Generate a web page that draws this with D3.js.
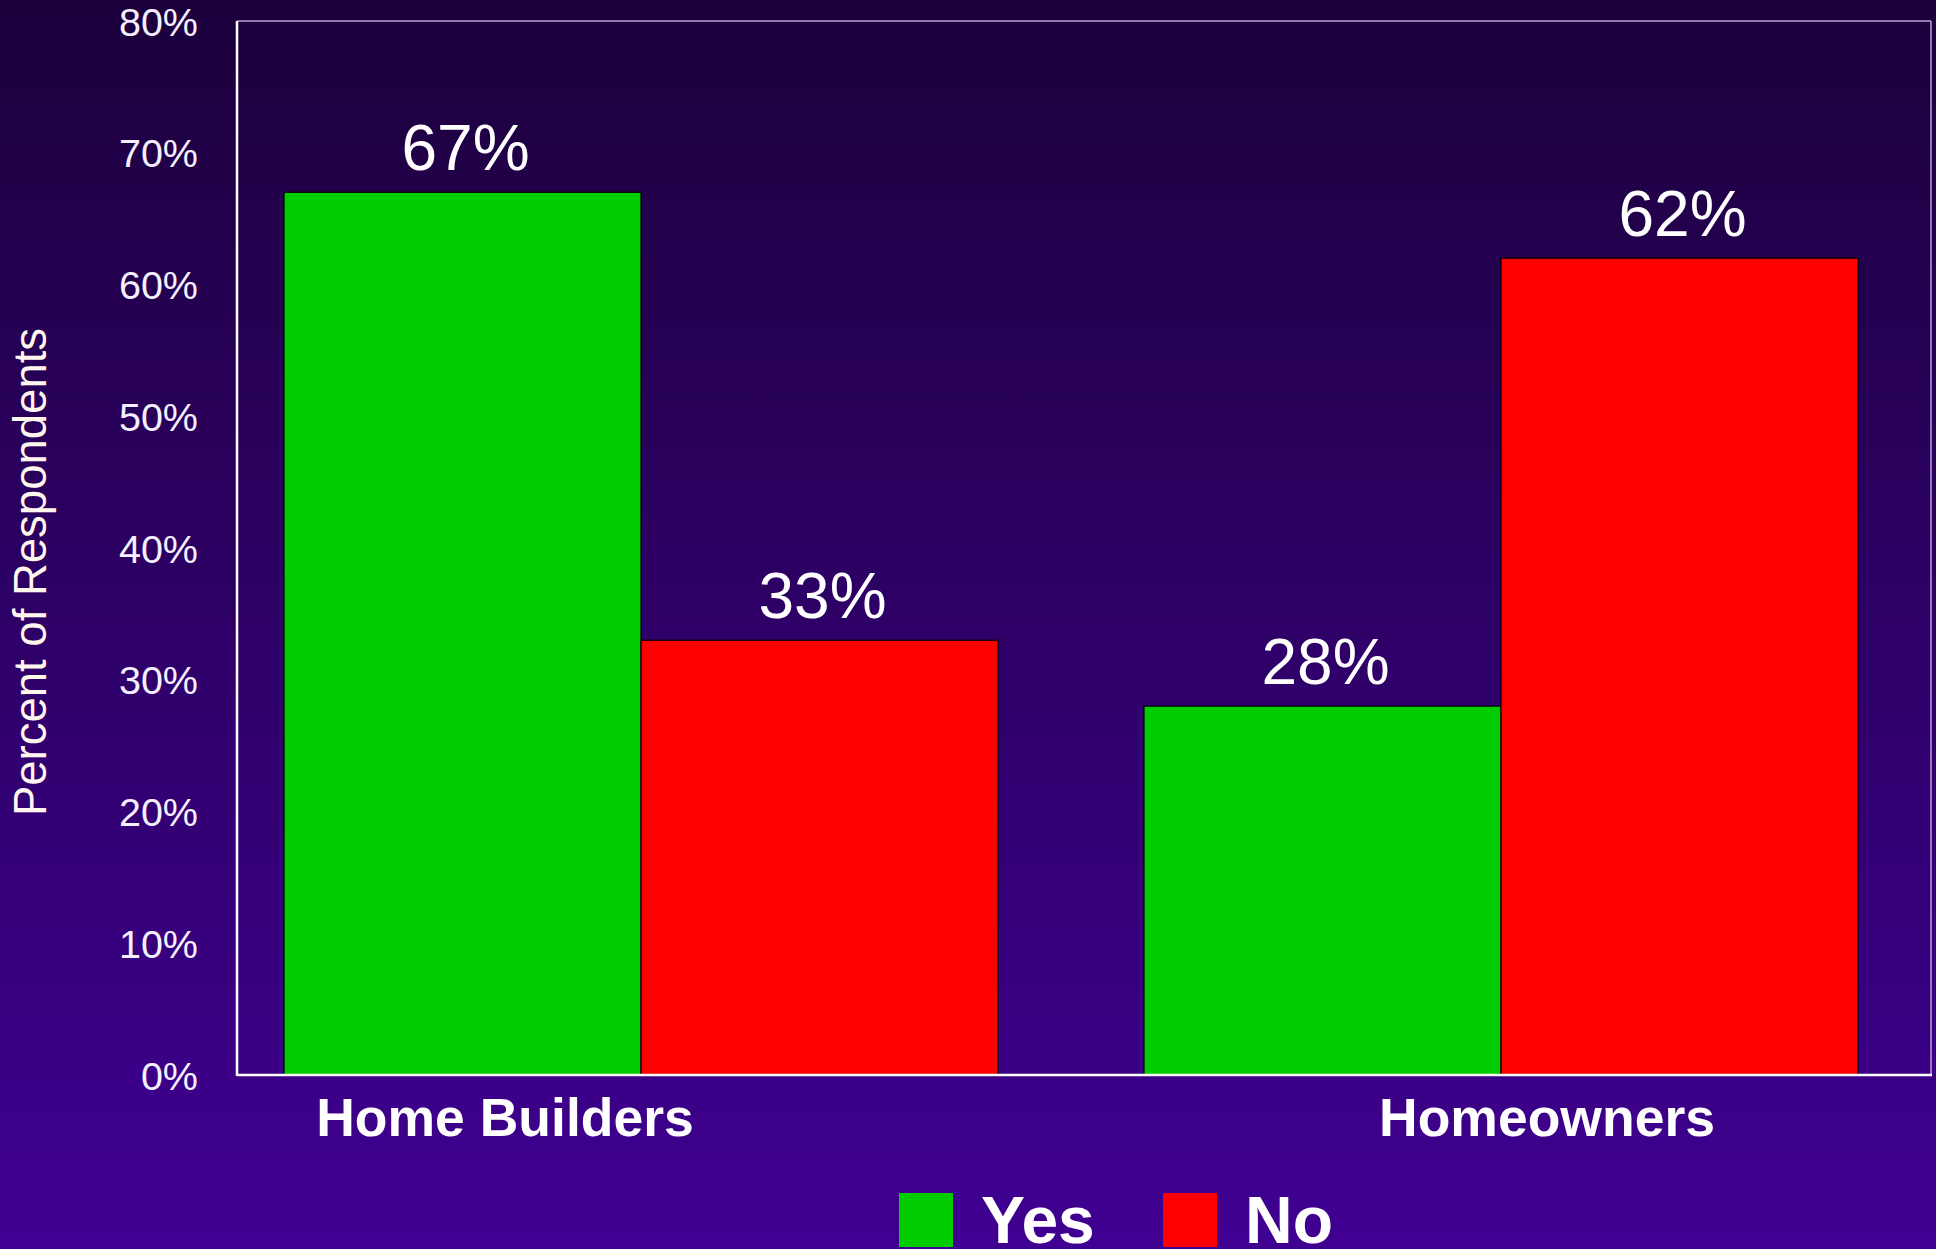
<!DOCTYPE html>
<html>
<head>
<meta charset="utf-8">
<script src="https://cdn.jsdelivr.net/npm/d3@7"></script>
<style>
  html, body { margin: 0; padding: 0; background: #2a0066; }
  svg { display: block; font-family: "Liberation Sans", Arial, sans-serif; }
</style>
</head>
<body>
<div id="chart"></div>
<script>
// chart data
const groups = ["Home Builders", "Homeowners"];
const series = ["Yes", "No"];
const yesValues = [67, 28];
const noValues = [33, 62];
const yTicks = [0, 10, 20, 30, 40, 50, 60, 70, 80];

const colors = { Yes: "#00cc00", No: "#ff0000" };

const svgWidth = 1936;
const svgHeight = 1249;
const plot = { left: 237, right: 1931, top: 21, bottom: 1075 };

const data = groups.map((g, i) => ({ group: g, values: [
  { key: "Yes", value: yesValues[i] },
  { key: "No", value: noValues[i] }
]}));

const svg = d3.select("#chart").append("svg")
  .attr("width", svgWidth).attr("height", svgHeight);

// background gradient
const defs = svg.append("defs");
const grad = defs.append("linearGradient").attr("id", "bg")
  .attr("x1", 0).attr("y1", 0).attr("x2", 0).attr("y2", 1);
grad.append("stop").attr("offset", "0%").attr("stop-color", "#1c003c");
grad.append("stop").attr("offset", "100%").attr("stop-color", "#400092");
svg.append("rect").attr("width", svgWidth).attr("height", svgHeight).attr("fill", "url(#bg)");

// scales -- groups sit a bit left of centre in the original
const x0 = d3.scaleBand().domain(groups).range([211, plot.right]).padding(0);
const x1 = d3.scaleBand().domain(series).range([0, x0.bandwidth()]).paddingInner(0).paddingOuter(0.2045);
const y = d3.scaleLinear().domain([0, 80]).range([plot.bottom, plot.top]);

// y tick labels
const yAxis = d3.axisLeft(y).tickValues(yTicks).tickFormat(d => d + "%").tickSize(0).tickPadding(0);
const yG = svg.append("g").attr("transform", "translate(198,0)").call(yAxis);
yG.select(".domain").remove();
yG.selectAll("text")
  .attr("fill", "#f4f0ff")
  .attr("font-size", 39.5)
  .attr("font-family", "Liberation Sans, Arial, sans-serif")
  .attr("dy", "0.36em");

// y axis title
svg.append("text")
  .attr("transform", "translate(46,572) rotate(-90)")
  .attr("text-anchor", "middle")
  .attr("fill", "#fff6ee")
  .attr("font-size", 45.5)
  .text("Percent of Respondents");

// bars
const gGroups = svg.selectAll("g.grp").data(data).enter().append("g")
  .attr("class", "grp")
  .attr("transform", d => "translate(" + x0(d.group) + ",0)");

gGroups.selectAll("rect").data(d => d.values).enter().append("rect")
  .attr("x", d => x1(d.key))
  .attr("y", d => y(d.value))
  .attr("width", x1.bandwidth())
  .attr("height", d => y(0) - y(d.value))
  .attr("fill", d => colors[d.key])
  .attr("stroke", "#000")
  .attr("stroke-width", 1.2);

// value labels
gGroups.selectAll("text.val").data(d => d.values).enter().append("text")
  .attr("class", "val")
  .attr("x", d => x1(d.key) + x1.bandwidth() / 2 + 3)
  .attr("y", d => y(d.value) - 22)
  .attr("text-anchor", "middle")
  .attr("fill", "#fff")
  .attr("font-size", 64)
  .text(d => d.value + "%");

// frame: light top/right, white left/bottom
svg.append("line").attr("x1", plot.left).attr("x2", plot.right).attr("y1", plot.top).attr("y2", plot.top)
  .attr("stroke", "#b4a2d6").attr("stroke-width", 1.5);
svg.append("line").attr("x1", plot.right).attr("x2", plot.right).attr("y1", plot.top).attr("y2", plot.bottom)
  .attr("stroke", "#b4a2d6").attr("stroke-width", 1.5);
svg.append("line").attr("x1", plot.left).attr("x2", plot.left).attr("y1", plot.top).attr("y2", plot.bottom + 1)
  .attr("stroke", "#fff").attr("stroke-width", 2.5);
svg.append("line").attr("x1", plot.left).attr("x2", plot.right + 1).attr("y1", plot.bottom).attr("y2", plot.bottom)
  .attr("stroke", "#fff").attr("stroke-width", 2.5);

// category labels (offset from the group centre as in the original)
const catLabelDx = [-136, 46];
svg.selectAll("text.cat").data(groups).enter().append("text")
  .attr("class", "cat")
  .attr("x", (d, i) => x0(d) + x0.bandwidth() / 2 + catLabelDx[i])
  .attr("y", 1136)
  .attr("text-anchor", "middle")
  .attr("fill", "#fff")
  .attr("font-size", 53.5)
  .attr("font-weight", "bold")
  .text(d => d);

// legend
const legendX = [899, 1163];
const leg = svg.selectAll("g.leg").data(series).enter().append("g")
  .attr("class", "leg")
  .attr("transform", (d, i) => "translate(" + legendX[i] + ",1193)");
leg.append("rect").attr("width", 54).attr("height", 54).attr("fill", d => colors[d]);
leg.append("text")
  .attr("x", 82).attr("y", 50)
  .attr("fill", "#fff")
  .attr("font-size", 66)
  .attr("font-weight", "bold")
  .text(d => d);
</script>
</body>
</html>
